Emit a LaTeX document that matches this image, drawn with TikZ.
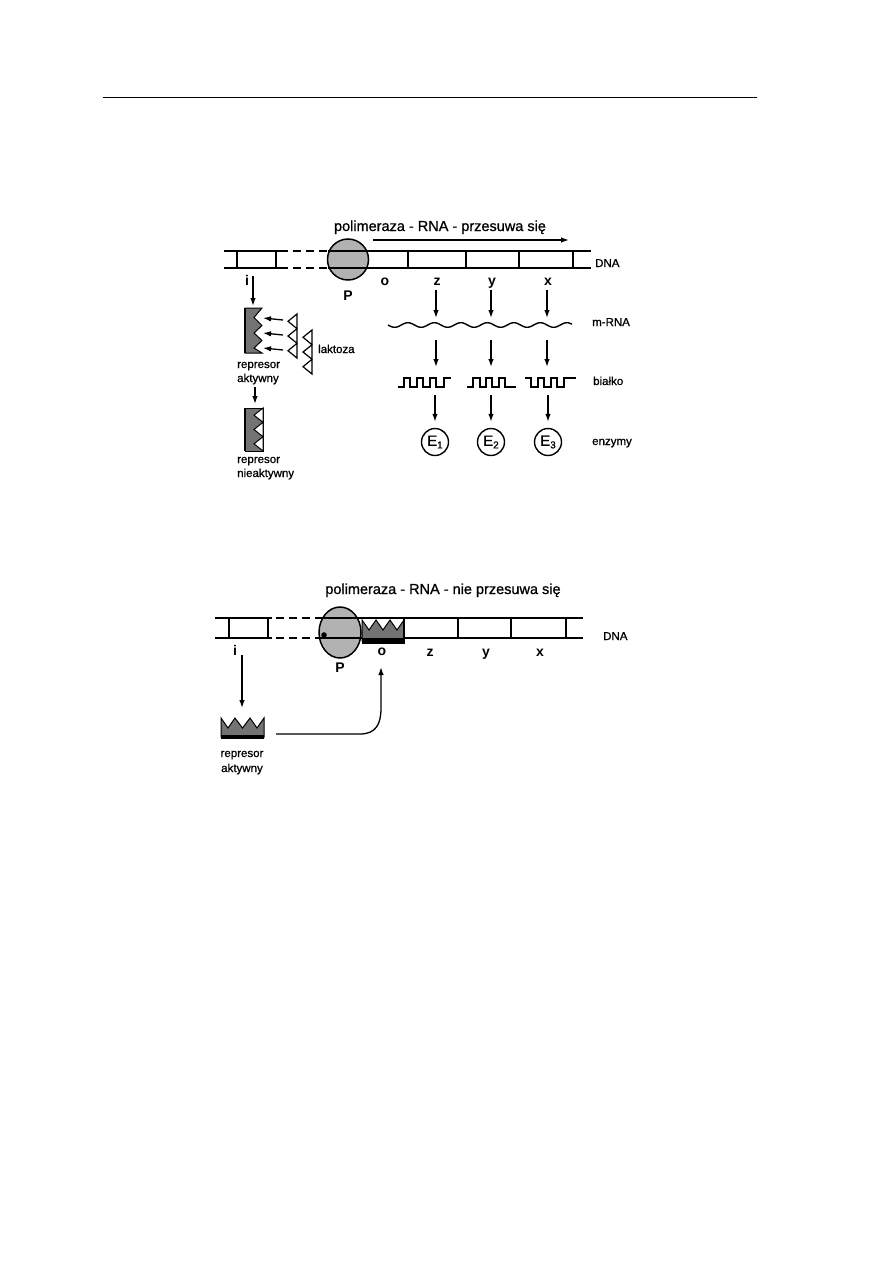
\documentclass[tikz,border=0pt]{standalone}
\usepackage{fontspec}
\setmainfont{Liberation Sans}
\newfontfamily\lblfont{Liberation Sans}[FakeBold=0.9]
\usetikzlibrary{arrows.meta}
\begin{document}
\begin{tikzpicture}[x=1pt,y=-1pt,
  lab/.style={font=\lblfont\fontsize{11.5}{13}\selectfont, inner sep=0, anchor=base west},
  clab/.style={font=\lblfont\fontsize{11.5}{13}\selectfont, inner sep=0, anchor=base},
  glab/.style={font=\bfseries\fontsize{14}{16}\selectfont, inner sep=0, anchor=base},
  ttl/.style={font=\lblfont\fontsize{14.5}{16}\selectfont, inner sep=0, anchor=base},
  arr/.style={-{Latex[length=8pt,width=5.5pt]}, line width=1.3pt},
  dna/.style={line width=1.5pt},
  dashdna/.style={line width=1.5pt, dash pattern=on 8pt off 5pt},
  shade/.style={fill=black!55},
  pol/.style={fill=black!30}]
\useasboundingbox (0,0) rectangle (893,1263);
\draw[line width=1pt] (103,97) -- (757,97);

% ================= TOP DIAGRAM =================
\node[ttl] (t1) at (440,231) {polimeraza - RNA - przesuwa się};
\coordinate (ma) at (373,240); \coordinate (mb) at (569,240);
\draw[arr] (ma) -- (mb);

% polymerase
\fill[pol] (348,259.5) circle (20.5);
% DNA
\draw[dna] (224,251) -- (280,251) (224,268) -- (280,268);
\draw[dna] (237,251) -- (237,268) (276,251) -- (276,268);
\draw[dashdna] (280,251) -- (330,251) (280,268) -- (330,268);
\draw[dna] (328,251) -- (591,251) (328,268) -- (591,268);
\foreach \xx in {408,466,519,573} \draw[dna] (\xx,251) -- (\xx,268);
\draw[line width=1.5pt] (348,259.5) circle (20.5);
\node[lab] (dna1) at (595,267) {DNA};

\node[glab] (i1) at (247,285) {i};
\node[glab] (P1) at (348,300) {P};
\node[glab] (o1) at (385,285) {o};
\node[glab] (z1) at (437,285) {z};
\node[glab] (y1) at (492,285) {y};
\node[glab] (x1) at (548,285) {x};

% genes -> mRNA
\foreach \xx/\nn in {436/a,491/b,547/c}{
  \coordinate (g\nn) at (\xx,290); \coordinate (m\nn) at (\xx,318);
  \draw[arr] (g\nn) -- (m\nn);
  \coordinate (r\nn) at (\xx,340); \coordinate (s\nn) at (\xx,367);
  \draw[arr] (r\nn) -- (s\nn);
}
\draw[line width=1.4pt] plot[domain=0:184, samples=150, smooth] ({388+\x},{325+2.3*sin(\x*13.585)});
\node[lab] (mrna) at (592,326) {m-RNA};

% protein square waves
\draw[line width=1.4pt] (398,387) -| (404,378) -| (410,387) -| (417,378) -| (423,387) -| (430,378) -| (436,387) -| (444,378) -- (451,378);
\draw[line width=1.4pt] (467,387) -| (473,378) -| (480,387) -| (486,378) -| (492,387) -| (499,378) -| (505,387) -- (516,387);
\draw[line width=1.4pt] (525,378) -| (531,387) -| (538,378) -| (544,387) -| (551,378) -| (557,387) -| (564,378) -- (576,378);
\node[lab] (bialko) at (593,385) {białko};

\foreach \xx/\nn/\k in {435/a/1,491/b/2,548/c/3}{
  \node[circle, draw, line width=1.4pt, minimum size=27pt, inner sep=0,
        font=\lblfont\fontsize{15}{15}\selectfont] (E\k) at (\xx,442)
        {E\raisebox{-2.5pt}{\fontsize{10}{10}\selectfont\k}};
  \coordinate (p\nn) at (\xx,395);
  \draw[arr, shorten >=6pt] (p\nn) -- (E\k.north);
}
\node[lab] (enz) at (592,445) {enzymy};

% active repressor
\coordinate (ia) at (253,276); \coordinate (ib) at (253,306);
\draw[arr] (ia) -- (ib);
\filldraw[shade, draw=black, line width=1pt] (245,308) -- (262,308) -- (254,317.5) -- (262,325.5) -- (254,333) -- (262,340.5) -- (254,348) -- (262,353) -- (245,353) -- cycle;
\draw[line width=2.5pt] (245,308) -- (245,353);
\foreach \yy/\nn in {318/a,333/b,348/c}{
  \coordinate (la\nn) at (283,\yy+2); \coordinate (lb\nn) at (263,\yy);
  \draw[arr] (la\nn) -- (lb\nn);
}
% lactose
\draw[line width=1.2pt, line join=miter] (297,314) -- (288,321.3) -- (297,328.7) -- (288,336) -- (297,343.3) -- (288,350.7) -- (297,358) -- cycle;
\draw[line width=1.2pt, line join=miter] (312,330) -- (303,337.3) -- (312,344.7) -- (303,352) -- (312,359.3) -- (303,366.7) -- (312,374) -- cycle;
\node[lab] (lakt) at (318,353) {laktoza};
\node[lab] (ra1) at (237,368) {represor};
\node[lab] (ra2) at (237,382) {aktywny};
% inactive repressor
\coordinate (ja) at (255,387); \coordinate (jb) at (255,404);
\draw[arr] (ja) -- (jb);
\filldraw[shade, draw=black, line width=1pt] (245,408) rectangle (263,451);
\filldraw[fill=white, draw=black, line width=1pt, line join=miter] (263,408) -- (254,415.2) -- (263,422.3) -- (254,429.5) -- (263,436.7) -- (254,443.8) -- (263,451) -- cycle;
\draw[line width=2.5pt] (245,408) -- (245,451);
\node[lab] (rn1) at (237,463) {represor};
\node[lab] (rn2) at (237,477) {nieaktywny};

% ================= BOTTOM DIAGRAM =================
\node[ttl] (t2) at (443,594) {polimeraza - RNA - nie przesuwa się};
\fill[pol] (340,632.5) ellipse (21 and 25.5);
\draw[dna] (215,618) -- (272,618) (215,638) -- (272,638);
\draw[dna] (229,618) -- (229,638) (268,618) -- (268,638);
\draw[dashdna] (276,618) -- (320,618) (276,638) -- (320,638);
\draw[dna] (319,618) -- (583,618) (319,638) -- (583,638);
\foreach \xx in {458,511,566} \draw[dna] (\xx,618) -- (\xx,638);
\draw[line width=1.5pt] (340,632.5) ellipse (21 and 25.5);
\fill (324,635) circle (2.8);
% repressor bound at operator
\filldraw[shade, draw=black, line width=1pt, line join=miter] (362,641) -- (362,620) -- (369,630) -- (376,620) -- (383,630) -- (390,620) -- (397,630) -- (404,620) -- (404,641) -- cycle;
\fill (362,638) rectangle (405,644);
\draw[dna] (404,618) -- (404,644);
\node[lab] (dna2) at (603,640) {DNA};

\node[glab] (i2) at (235,655) {i};
\node[glab] (P2) at (340,672) {P};
\node[glab] (o2) at (382,655) {o};
\node[glab] (z2) at (430,656) {z};
\node[glab] (y2) at (486,656) {y};
\node[glab] (x2) at (540,656) {x};

\coordinate (ka) at (242,655); \coordinate (kb) at (242,708);
\draw[arr] (ka) -- (kb);
\filldraw[shade, draw=black, line width=1pt, line join=miter] (221,737) -- (221,718) -- (228,728) -- (235,718) -- (242.5,728) -- (250,718) -- (257,728) -- (264,718) -- (264,737) -- cycle;
\fill (221,734.5) rectangle (264,738.5);
\node[clab] (rb1) at (242,757) {represor};
\node[clab] (rb2) at (242,772) {aktywny};

\coordinate (ca) at (276,734); \coordinate (cb) at (381,667);
\draw[arr] (ca) -- (360,734) .. controls (376,734) and (381,724) .. (381,708) -- (cb);
\end{tikzpicture}
\end{document}
